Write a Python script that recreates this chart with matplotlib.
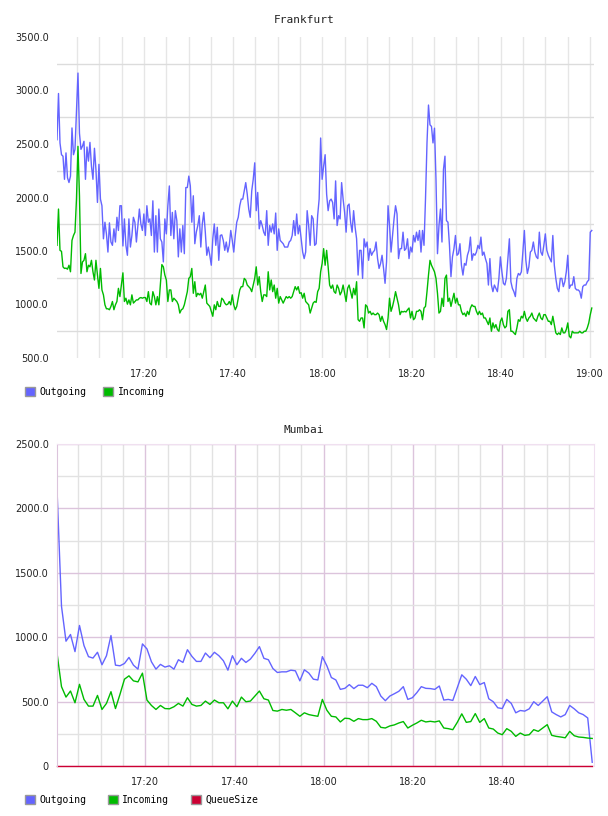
import numpy as np
import matplotlib.pyplot as plt
from matplotlib.patches import Patch
from matplotlib.ticker import FuncFormatter

# --- data (minutes after 17:00) ---
fra_first_min, fra_last_min = 0.5, 120.4
fra_outgoing = [
    2540, 2972, 2510, 2400, 2386, 2170, 2417, 2185, 2140, 2200, 2650, 2400, 2450, 2820, 3163, 2600,
    2450, 2480, 2525, 2170, 2472, 2340, 2515, 2293, 2170, 2460, 2260, 1954, 2310, 1985, 1923, 1614,
    1769, 1660, 1490, 1763, 1584, 1553, 1707, 1584, 1815, 1692, 1923, 1923, 1547, 1800, 1553, 1460,
    1800, 1537, 1645, 1815, 1769, 1584, 1738, 1892, 1753, 1692, 1846, 1645, 1923, 1769, 1800, 1645,
    1969, 1490, 1830, 1490, 1892, 1614, 1584, 1398, 1800, 1660, 1923, 2108, 1645, 1861, 1614, 1877,
    1784, 1445, 1707, 1490, 1738, 1475, 2093, 2093, 2200, 2108, 1769,
    2016, 1568, 1676, 1738, 1830, 1537, 1753, 1861, 1676, 1460, 1537, 1460, 1367, 1614, 1753, 1553,
    1722, 1413, 1645, 1651, 1599, 1506, 1584, 1490, 1553, 1692, 1599, 1490, 1645, 1769, 1815, 1923,
    1985, 1985, 2062, 2139, 2031, 1892, 1815, 2062, 2170, 2324, 1877, 2047, 1707, 1784, 1738, 1676,
    1645, 1877, 1553, 1738, 1676, 1753, 1660, 1855, 1506, 1707, 1599, 1584, 1568, 1537, 1537, 1537,
    1584, 1599, 1645, 1784, 1645, 1846, 1660, 1738, 1614, 1490, 1429, 1490, 1877, 1738, 1553, 1830,
    1800, 1553, 1568, 1830, 1985, 2556, 2170, 2293, 2400, 2031,
    1877, 1969, 1985, 1954, 1800, 2155, 1738, 1830, 1800, 2139, 1985, 1861, 1676, 1923, 1939, 1769,
    1676, 1877, 1722, 1614, 1275, 1506, 1506, 1244, 1614, 1537, 1584, 1413, 1522, 1460, 1490, 1506,
    1584, 1429, 1337, 1383, 1460, 1337, 1198, 1398, 1923, 1738, 1490, 1645, 1800, 1923, 1846, 1429,
    1522, 1522, 1676, 1506, 1522, 1614, 1429, 1537, 1490, 1645, 1584, 1676, 1599, 1692, 1490, 1692,
    1553, 1985, 2510, 2864, 2679, 2664, 2510, 2648, 2170, 1475, 1738, 1892, 1584, 2262, 2386, 1784,
    1769, 1553, 1260, 1445, 1522, 1645, 1460, 1475, 1568, 1367,
    1275, 1383, 1367, 1460, 1506, 1630, 1413, 1475, 1460, 1490, 1553, 1522, 1630, 1460, 1490, 1429,
    1383, 1182, 1429, 1182, 1120, 1182, 1151, 1120, 1244, 1445, 1306, 1198, 1182, 1244, 1429, 1614,
    1213, 1151, 1120, 1074, 1244, 1290, 1275, 1306, 1490, 1692, 1413, 1290, 1352, 1490, 1506, 1584,
    1490, 1445, 1429, 1676, 1490, 1460, 1553, 1660, 1506, 1460, 1429, 1398, 1645, 1367, 1244, 1151,
    1120, 1244, 1244, 1167, 1213, 1306, 1460, 1151, 1182, 1182, 1260, 1151, 1136, 1136, 1120, 1059,
    1167, 1182, 1182, 1213, 1229, 1676, 1692,
]
fra_incoming = [
    1553, 1892, 1506, 1497, 1352, 1337, 1340, 1330, 1367, 1306, 1599, 1645, 1676, 1985, 2478, 2016,
    1290, 1398, 1413, 1475, 1306, 1367, 1352, 1413, 1306, 1229, 1413, 1275, 1151, 1337, 1136, 1090,
    997, 960, 960, 951, 982, 1028, 951, 997, 1028, 1151, 1074, 1182, 1296, 1028, 1059, 1003,
    1043, 997, 1090, 1013, 1028, 1043, 1043, 1059, 1065, 1059, 1065, 1065, 1028, 1120, 1013, 997,
    1120, 1074, 997, 1074, 997, 1182, 1373, 1352, 1275, 1229, 1028, 1136, 1136, 1028, 1059, 1043,
    1028, 997, 920, 951, 960, 997, 1059, 1120, 1244, 1260, 1337, 1105,
    1213, 1074, 1105, 1090, 1105, 1059, 1120, 1182, 1013, 997, 982, 936, 890, 997, 951, 1028,
    982, 982, 1059, 1043, 1013, 997, 1003, 1028, 997, 1090, 997, 951, 982, 1059, 1136, 1167,
    1167, 1244, 1229, 1182, 1167, 1151, 1120, 1182, 1244, 1352, 1182, 1260, 1120, 1028, 1090, 1090,
    1074, 1306, 1136, 1229, 1120, 1182, 1059, 1151, 1013, 1074, 1043, 1013, 1043, 1074, 1060, 1074,
    1059, 1074, 1120, 1167, 1136, 1167, 1105, 1110, 1059, 1105, 1028, 1013, 997, 920, 967, 1013,
    1028, 1020, 1120, 1151, 1306, 1383, 1522, 1367, 1506, 1352,
    1182, 1151, 1182, 1120, 1105, 1182, 1151, 1090, 1120, 1182, 1105, 1028, 1151, 1182, 1120, 1059,
    1151, 1090, 1213, 858, 843, 874, 874, 781, 997, 982, 920, 936, 905, 920, 905, 905,
    920, 905, 843, 890, 843, 812, 766, 874, 1059, 936, 982, 1043, 1120, 1059, 997, 905,
    936, 930, 936, 930, 951, 967, 874, 936, 858, 874, 936, 936, 951, 936, 858, 967,
    982, 1120, 1275, 1413, 1367, 1337, 1306, 1244, 1105, 920, 936, 1059, 982, 1244, 1275, 1028,
    1059, 982, 1043, 1105, 1013, 1059, 997, 997, 936, 905,
    920, 890, 936, 905, 967, 997, 982, 982, 936, 905, 936, 905, 920, 874, 874, 843,
    812, 874, 750, 828, 781, 812, 766, 750, 843, 874, 812, 781, 797, 936, 951, 750,
    750, 735, 719, 781, 858, 843, 890, 874, 936, 874, 843, 874, 890, 920, 874, 858,
    843, 890, 920, 874, 858, 905, 905, 874, 843, 843, 812, 890, 812, 735, 719, 735,
    719, 781, 735, 735, 766, 828, 704, 688, 750, 735, 735, 735, 735, 750, 735, 735,
    750, 750, 781, 828, 905, 967,
]

mum_first_min, mum_last_min = 0.2, 120.2
mum_outgoing = [
    2150, 1240, 969, 1021, 888, 1091, 935, 849, 838, 883, 786, 856, 1013, 783, 778, 796,
    843, 783, 752, 948, 909, 809, 752, 789, 768, 778, 752, 825, 804, 903, 851, 812,
    812, 877, 841, 883, 856, 817, 744, 856, 786, 836, 804, 830, 875, 927, 836, 825,
    757, 726, 731, 731, 744, 739, 661,
    747, 721, 674, 668, 849, 778, 687, 668, 595, 603, 632, 601, 627, 627, 608, 642,
    616, 543, 507, 543, 561, 580, 616, 517, 530, 569, 616, 603, 601, 595, 621, 512,
    517, 509, 608, 708, 674, 624, 695, 632, 648, 522, 499, 452, 446, 517, 486, 413,
    431, 426, 444, 499, 470, 504, 538, 420, 399, 381, 399, 470, 444, 413, 399, 373, 29,
]
mum_incoming = [
    877, 616, 535, 582, 491, 634, 517, 465, 465, 548, 439, 486, 577, 446, 556, 674,
    700, 661, 653, 721, 512, 470, 439, 470, 446, 444, 460, 486, 465, 530, 478, 465,
    470, 504, 478, 512, 491, 491, 444, 504, 460, 535, 499, 504, 543, 582, 522, 512,
    431, 426, 439, 433, 439, 413, 386,
    413, 399, 392, 386, 517, 433, 386, 381, 342, 371, 368, 347, 368, 360, 360, 368,
    347, 300, 295, 311, 319, 334, 345, 295, 316, 334, 355, 342, 347, 342, 350, 295,
    290, 282, 339, 405, 339, 345, 407, 339, 368, 295, 287, 256, 243, 290, 269, 230,
    256, 238, 243, 282, 269, 295, 321, 238, 230, 225, 219, 269, 235, 225, 222, 217, 214,
]
mum_queue = [0] * len(mum_outgoing)

blue = "#6464ff"
green = "#00bb00"
red = "#cc0033"
grid_grey = "#e2e2e2"
grid_pink = "#dcc4dc"


def hhmm(v, pos=None):
    m = int(round(v))
    return "%d:%02d" % (17 + m // 60, m % 60)


def y_label(v, pos=None):
    return "0" if v == 0 else "%.1f" % v


def setup(ax, ymin, ymax, last_tick):
    ax.set_ylim(ymin, ymax)
    ax.set_xticks(np.arange(20, last_tick + 1, 20))
    ax.set_xticks(np.arange(5, last_tick + 1, 5), minor=True)
    ax.xaxis.set_major_formatter(FuncFormatter(hhmm))
    ax.yaxis.set_major_formatter(FuncFormatter(y_label))
    ax.tick_params(which="both", length=0, labelsize=7, colors="#222222")
    ax.tick_params(axis="x", pad=8)
    ax.tick_params(axis="y", pad=6)
    ax.set_axisbelow(True)


fig = plt.figure(figsize=(6.08, 8.16), dpi=100)

# --- Frankfurt ---
ax1 = fig.add_axes([57 / 608, 1 - 358 / 816, 537 / 608, 321 / 816])
setup(ax1, 500, 3500, 120)
ax1.set_xlim(0.5, 120.9)
ax1.set_yticks(np.arange(500, 3501, 500))
ax1.set_yticks(np.arange(750, 3500, 500), minor=True)
ax1.grid(which="minor", axis="y", color="#dcdcdc", lw=1)
ax1.grid(which="both", axis="x", color="#e6e6e6", lw=1)
for s in ax1.spines.values():
    s.set_visible(False)
t_out = np.linspace(fra_first_min, fra_last_min, len(fra_outgoing))
t_in = np.linspace(fra_first_min, fra_last_min, len(fra_incoming))
ax1.plot(t_out, fra_outgoing, color=blue, lw=1.0)
ax1.plot(t_in, fra_incoming, color=green, lw=1.0)
fig.text(0.5, 1 - 20 / 816, "Frankfurt", ha="center", va="center",
         family="DejaVu Sans Mono", fontsize=8, color="#222222")

# --- Mumbai ---
ax2 = fig.add_axes([57 / 608, 1 - 766 / 816, 537 / 608, 322 / 816])
setup(ax2, 0, 2500, 115)
ax2.set_xlim(0.2, 120.6)
ax2.set_yticks(np.arange(0, 2501, 500))
ax2.set_yticks(np.arange(250, 2500, 500), minor=True)
ax2.grid(which="minor", color=grid_grey, lw=1)
ax2.grid(which="major", color=grid_pink, lw=1)
for side in ["top", "right"]:
    ax2.spines[side].set_color("#f0e0f0")
ax2.spines["left"].set_color(grid_pink)
ax2.spines["bottom"].set_visible(False)
tm_out = np.linspace(mum_first_min, mum_last_min, len(mum_outgoing))
tm_in = np.linspace(mum_first_min, mum_last_min, len(mum_incoming))
ax2.plot(tm_out, mum_outgoing, color=blue, lw=1.0)
ax2.plot(tm_in, mum_incoming, color=green, lw=1.0)
ax2.plot(tm_out, mum_queue, color=red, lw=1.0, clip_on=False)
fig.text(0.5, 1 - 430 / 816, "Mumbai", ha="center", va="center",
         family="DejaVu Sans Mono", fontsize=8, color="#222222")

# --- legends ---
def legend(names, colors, ycenter, spacing):
    handles = [Patch(facecolor=c, edgecolor="#999999", lw=1) for c in colors]
    fig.legend(handles, names, loc="center left", bbox_to_anchor=(20 / 608, 1 - ycenter / 816),
               ncol=len(names), frameon=False, handlelength=1.0, handleheight=1.0,
               handletextpad=0.5, columnspacing=spacing, borderpad=0,
               prop={"family": "DejaVu Sans Mono", "size": 7})


legend(["Outgoing", "Incoming"], [blue, green], 392, 1.7)
legend(["Outgoing", "Incoming", "QueueSize"], [blue, green, red], 800, 2.2)

fig.savefig("out.png", dpi=100)
